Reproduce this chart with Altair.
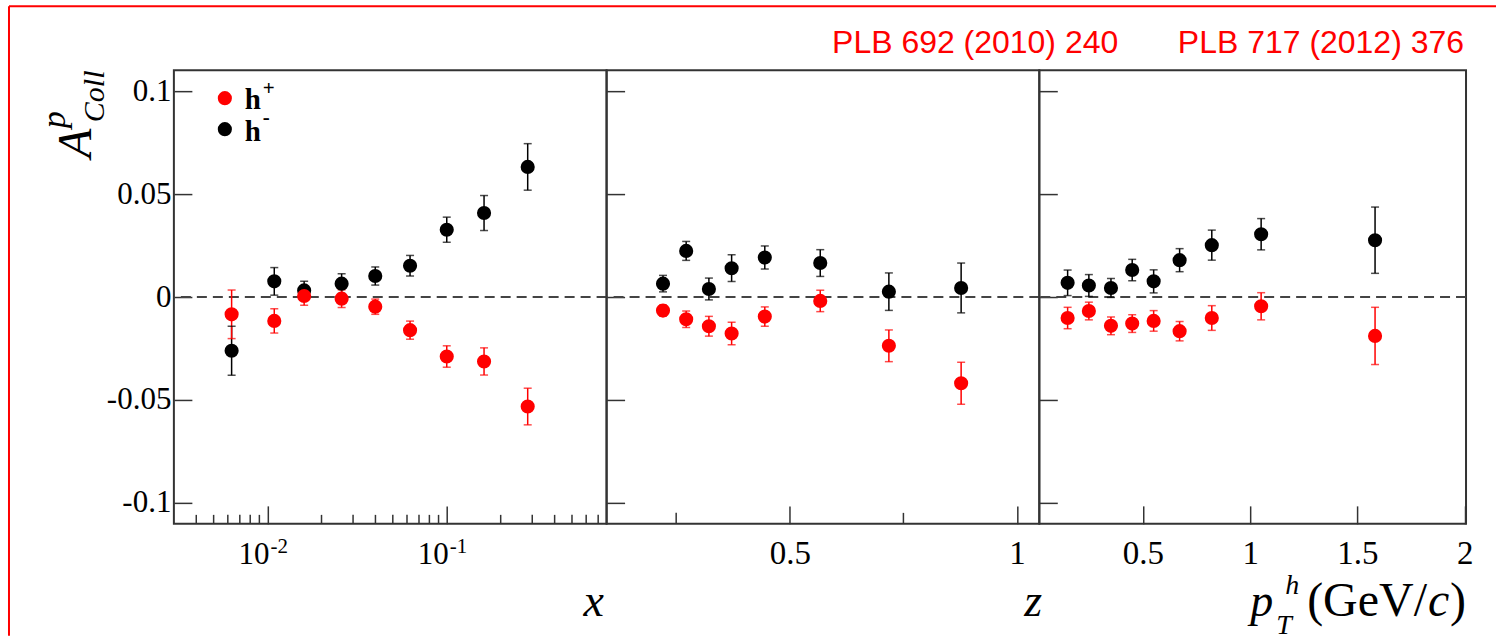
import altair as alt
import pandas as pd

# ---------------- data ----------------
x_vals = [0.0063, 0.0109, 0.016, 0.0259, 0.0399, 0.0624, 0.100, 0.1615, 0.283]
x_hp = [-0.0084, -0.0116, 0.0005, -0.0008, -0.0047, -0.0161, -0.0289, -0.0313, -0.0532]
x_hp_err = [0.0118, 0.0059, 0.0045, 0.0043, 0.0037, 0.0044, 0.0052, 0.0066, 0.0089]
x_hm = [-0.0261, 0.0076, 0.0032, 0.0065, 0.0102, 0.0152, 0.0327, 0.0408, 0.0632]
x_hm_err = [0.0119, 0.0067, 0.0044, 0.0048, 0.0044, 0.0050, 0.0061, 0.0085, 0.0113]

z_vals = [0.221, 0.272, 0.322, 0.372, 0.445, 0.567, 0.718, 0.877]
z_hp = [-0.0066, -0.0108, -0.0142, -0.0177, -0.0095, -0.0019, -0.0237, -0.0419]
z_hp_err = [0.0027, 0.0040, 0.0048, 0.0055, 0.0047, 0.0052, 0.0077, 0.0102]
z_hm = [0.0065, 0.0224, 0.0039, 0.0140, 0.0192, 0.0165, 0.0026, 0.0044]
z_hm_err = [0.0040, 0.0046, 0.0053, 0.0065, 0.0056, 0.0065, 0.0091, 0.0121]

pt_vals = [0.149, 0.248, 0.351, 0.450, 0.550, 0.671, 0.821, 1.051, 1.582]
pt_hp = [-0.0102, -0.0068, -0.0140, -0.0129, -0.0116, -0.0166, -0.0102, -0.0045, -0.0189]
pt_hp_err = [0.0052, 0.0043, 0.0043, 0.0043, 0.0050, 0.0047, 0.0060, 0.0066, 0.0139]
pt_hm = [0.0069, 0.0056, 0.0044, 0.0131, 0.0076, 0.0179, 0.0252, 0.0305, 0.0276]
pt_hm_err = [0.0062, 0.0053, 0.0046, 0.0052, 0.0056, 0.0056, 0.0073, 0.0076, 0.0161]

series = ["h+", "h-"]
series_sup = ["+", "-"]
y_ticks = [-0.1, -0.05, 0, 0.05, 0.1]
x1_major = [0.01, 0.1]
x1_major_base = ["10", "10"]
x1_major_exp = ["-2", "-1"]
x1_minor = [0.004, 0.005, 0.006, 0.007, 0.008, 0.009,
            0.02, 0.03, 0.04, 0.05, 0.06, 0.07, 0.08, 0.09,
            0.2, 0.3, 0.4, 0.5, 0.6, 0.7]
z_major = [0.5, 1.0]
z_minor = [0.25, 0.75]
pt_major = [0.5, 1.0, 1.5, 2.0]
refs = ["PLB 692 (2010) 240", "PLB 717 (2012) 376"]

# ---------------- layout constants ----------------
H = 454
W1, W2, W3 = 433, 433, 427
SERIF = "Liberation Serif"
SANS = "Liberation Sans"
FRAME = "#333333"

yscale = alt.Scale(domain=[-0.1102, 0.1102], nice=False, zero=False)
cscale = alt.Scale(domain=series, range=["#ff0000", "#000000"])


def make_df(v, hp, hpe, hm, hme):
    rows = []
    for i in range(len(v)):
        rows.append(dict(v=v[i], a=hm[i], lo=hm[i] - hme[i], hi=hm[i] + hme[i], s="h-"))
    for i in range(len(v)):
        rows.append(dict(v=v[i], a=hp[i], lo=hp[i] - hpe[i], hi=hp[i] + hpe[i], s="h+"))
    return pd.DataFrame(rows)


def y_axis(labels):
    return alt.Axis(values=y_ticks, title=None, grid=False, domain=False,
                    offset=-18, tickSize=18, tickColor=FRAME, tickWidth=1.5,
                    labels=labels, labelFont=SERIF, labelFontSize=31, labelColor="black",
                    labelPadding=3,
                    labelExpr="datum.value == 0 ? '0' : (datum.value < 0 ? '-' : '') + format(abs(datum.value), '.2~f')")


def x_axis(values, labels):
    return alt.Axis(values=values, title=None, grid=False, domain=False,
                    offset=-18, tickSize=18, tickColor=FRAME, tickWidth=1.5,
                    labels=labels, labelFont=SERIF, labelFontSize=33, labelColor="black",
                    labelBaseline="alphabetic", labelPadding=40, labelFlush=False,
                    labelOverlap=False, labelExpr="format(datum.value, '~g')")


def one(row=None):
    return alt.Chart(alt.Data(values=[row or {}]))


def txt(s, x, y, size, font=SERIF, style="normal", weight="normal", align="left",
        color="black", angle=0):
    return one().mark_text(text=s, font=font, fontSize=size, fontStyle=style,
                           fontWeight=weight, align=align, baseline="alphabetic",
                           color=color, angle=angle).encode(x=alt.value(x), y=alt.value(y))


def panel(df, xscale, width, xaxis, minor_vals, minor_len, ylab, extras):
    yaxis = y_axis(ylab)
    xenc = alt.X("v:Q", scale=xscale, axis=xaxis)
    col = alt.Color("s:N", scale=cscale, legend=None)
    base = alt.Chart(df)
    zero = one().mark_rule(color="#444444", strokeDash=[10, 6], strokeWidth=1.8).encode(
        y=alt.Y(datum=0, scale=yscale, axis=yaxis))
    bars = base.mark_rule(strokeWidth=1.5).encode(
        x=xenc, y=alt.Y("lo:Q", scale=yscale, axis=yaxis), y2="hi:Q", color=col)
    cap_lo = base.mark_tick(orient="horizontal", size=8, thickness=1.5).encode(
        x=xenc, y=alt.Y("lo:Q", scale=yscale, axis=yaxis), color=col)
    cap_hi = base.mark_tick(orient="horizontal", size=8, thickness=1.5).encode(
        x=xenc, y=alt.Y("hi:Q", scale=yscale, axis=yaxis), color=col)
    pts = base.mark_point(filled=True, shape="circle", size=200, opacity=1).encode(
        x=xenc, y=alt.Y("a:Q", scale=yscale, axis=yaxis), color=col)
    minor = alt.Chart(pd.DataFrame({"v": minor_vals})).mark_rule(
        color=FRAME, strokeWidth=1.5).encode(
        x=xenc, y=alt.value(H - minor_len), y2=alt.value(H))
    layers = [zero, minor, bars, cap_lo, cap_hi, pts] + extras
    return alt.layer(*layers).properties(width=width, height=H)


# ---------------- panel 1 (x) ----------------
xs1 = alt.Scale(type="log", domain=[0.003, 0.78], nice=False)
ax1 = x_axis(x1_major, False)
lab_df = pd.DataFrame({"v": x1_major, "t": x1_major_base, "e": x1_major_exp})
lab10 = alt.Chart(lab_df).mark_text(font=SERIF, fontSize=31, align="right",
                                    baseline="alphabetic", dx=2).encode(
    x=alt.X("v:Q", scale=xs1, axis=ax1), y=alt.value(494), text="t:N")
labexp = alt.Chart(lab_df).mark_text(font=SERIF, fontSize=21, align="left",
                                     baseline="alphabetic", dx=3).encode(
    x=alt.X("v:Q", scale=xs1, axis=ax1), y=alt.value(483), text="e:N")

# legend (symbols coloured through the colour scale)
legend_layers = []
for i, (s, sup) in enumerate(zip(series, series_sup)):
    cy = 28 + 31 * i
    legend_layers.append(
        one({"s": s}).mark_point(filled=True, shape="circle", size=200, opacity=1).encode(
            x=alt.value(51), y=alt.value(cy),
            color=alt.Color("s:N", scale=cscale, legend=None)))
    legend_layers.append(txt("h", 71, cy + 11 + i, 29, weight="bold"))
    legend_layers.append(txt(sup, 89, cy - 3 if sup == "+" else cy - 5, 21, weight="bold"))

border_h = one().mark_rule(color="#ff0000", strokeWidth=2).encode(
    x=alt.value(-165), x2=alt.value(1323), y=alt.value(-64))
border_v = one().mark_rule(color="#ff0000", strokeWidth=2).encode(
    x=alt.value(-165), y=alt.value(-64), y2=alt.value(566))

ytitle = [
    txt("A", -83, 88, 48, style="italic", angle=270),
    txt("p", -109, 58, 34, style="italic", angle=270),
    txt("Coll", -70, 52, 30, style="italic", angle=270),
]

p1 = panel(make_df(x_vals, x_hp, x_hp_err, x_hm, x_hm_err), xs1, W1, ax1, x1_minor, 9, True,
           [lab10, labexp, border_h, border_v,
            txt("x", 420, 546, 46, style="italic", align="center")]
           + ytitle + legend_layers)

# ---------------- panel 2 (z) ----------------
xs2 = alt.Scale(domain=[0.0969, 1.049], nice=False, zero=False)
p2 = panel(make_df(z_vals, z_hp, z_hp_err, z_hm, z_hm_err), xs2, W2, x_axis(z_major, True),
           z_minor, 11, False,
           [txt("z", 427, 546, 46, style="italic", align="center")])

# ---------------- panel 3 (pT) ----------------
xs3 = alt.Scale(domain=[0.017, 2.006], nice=False, zero=False)
p3_extra = [
    txt(refs[0], 79, -17, 32, font=SANS, align="right", color="#ff0000"),
    txt(refs[1], 425, -17, 32, font=SANS, align="right", color="#ff0000"),
    txt("p", 211, 546, 46, style="italic"),
    txt("h", 246, 524, 28, style="italic"),
    txt("T", 237, 564, 28, style="italic"),
    txt("(GeV/", 268, 546, 48),
    txt("c", 389, 546, 48, style="italic"),
    txt(")", 411, 546, 48),
]
p3 = panel(make_df(pt_vals, pt_hp, pt_hp_err, pt_hm, pt_hm_err), xs3, W3, x_axis(pt_major, True),
           [], 9, False, p3_extra)

chart = alt.hconcat(p1, p2, p3, spacing=0, bounds="flush").configure_view(
    stroke=FRAME, strokeWidth=2).properties(
    padding={"left": 7, "top": 4, "right": 0, "bottom": 0}, background="white")

chart.save("out.html", embed_options={"renderer": "svg", "actions": False})
